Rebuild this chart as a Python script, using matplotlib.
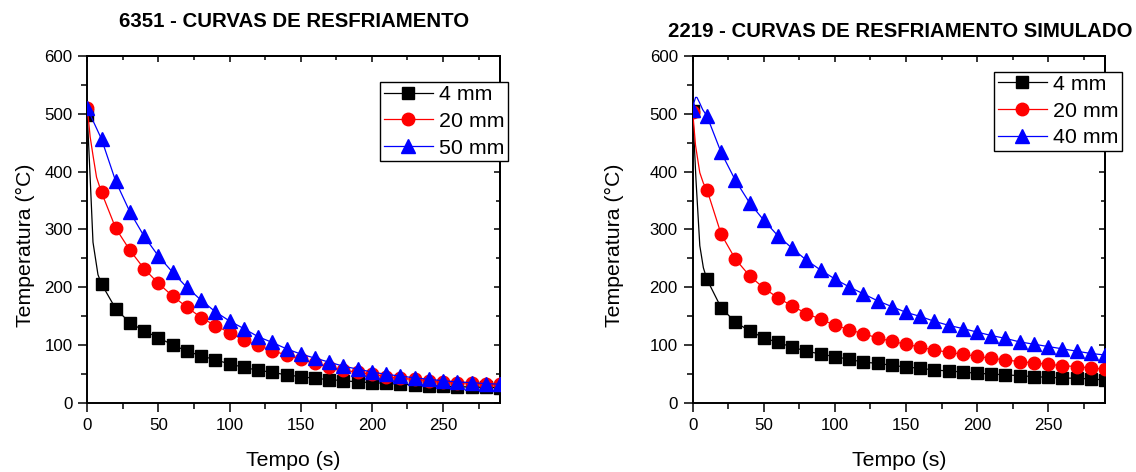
import matplotlib
matplotlib.use("Agg")
import matplotlib.pyplot as plt
from matplotlib.ticker import MultipleLocator
from matplotlib.lines import Line2D

plt.rcParams['font.family'] = ['Liberation Sans', 'DejaVu Sans']

# ---------------- data ----------------
time_s = list(range(0, 300, 10))

# 6351 - measured
a6351_4mm = [497, 206, 163, 139, 125, 113, 101, 90, 82, 75, 68, 62, 57, 53.5, 49, 46,
             43, 41, 39, 37, 35.7, 34.5, 33, 31.6, 30.5, 29.3, 28.8, 28, 27.6, 27]
a6351_20mm = [510, 364, 302, 264, 232, 207, 185, 166, 148, 134, 122, 109, 100, 91, 83, 76,
              69, 63, 57.5, 53.5, 50, 46, 43, 41.4, 39, 37.4, 35.7, 34.5, 33.4, 32.8]
a6351_50mm = [509, 456, 383, 330, 288, 254, 226, 200, 178, 158, 142, 129, 115, 105, 94, 85,
              78, 71, 64, 59, 54, 50, 47, 44, 41.4, 39, 36.8, 35.7, 34, 33]

# 2219 - simulated
a2219_4mm = [505, 214, 165, 140, 125, 113, 105, 97, 90, 85, 80.5, 76, 71, 69, 65.6, 62.7,
             60.4, 57.5, 55.8, 54, 51.8, 50.6, 49, 47.8, 46, 44.9, 43.7, 43.2, 42, 40.3]
a2219_20mm = [503, 369, 292, 249, 220, 199, 182, 168, 155, 145, 135, 127, 120, 113, 107, 102,
              97, 92, 88, 84.6, 81, 77.7, 74.8, 72, 69.6, 67.3, 65, 63.3, 61, 58.7]
a2219_40mm = [506, 496, 433, 385, 346, 316, 289, 267.5, 247, 230, 214.6, 201, 189, 177, 167, 157,
              150, 141.5, 134.6, 129, 123, 117, 112, 106, 102, 98, 94, 90, 86, 83.4]

l6351_4mm_t, l6351_4mm_v = [2, 4, 7.5], [390, 278, 222]
l6351_20mm_t, l6351_20mm_v = [2, 4, 6.5], [460, 428, 390]
l2219_4mm_t, l2219_4mm_v = [2.3, 5, 7.5], [386, 272, 234]
l2219_20mm_t, l2219_20mm_v = [2, 5, 7.5], [445, 398, 380]
l2219_40mm_t, l2219_40mm_v = [1, 2, 3, 5, 7], [520, 528, 528, 518, 507]

labels_left = ['4 mm', '20 mm', '50 mm']
labels_right = ['4 mm', '20 mm', '40 mm']
title_left = '6351 - CURVAS DE RESFRIAMENTO'
title_right = '2219 - CURVAS DE RESFRIAMENTO SIMULADO'

colors = ['#000000', '#FF0000', '#0000FF']
markers = ['s', 'o', '^']
msizes = [8.5, 9, 10]


def merged(t, v, et, ev):
    pairs = sorted(zip(list(t) + list(et), list(v) + list(ev)))
    return [p[0] for p in pairs], [p[1] for p in pairs]


W, H = 1136, 472
fig = plt.figure(figsize=(W / 100, H / 100), dpi=100)
ax1 = fig.add_axes([87.3 / W, 68.7 / H, 412.7 / W, 347.6 / H])
ax2 = fig.add_axes([692.7 / W, 68.7 / H, 412.3 / W, 347.6 / H])


def draw(ax, series, extras, labels, legend_anchor, ylabel_x):
    handles = []
    for i, (vals, (et, ev)) in enumerate(zip(series, extras)):
        lt, lv = merged(time_s, vals, et, ev)
        ax.plot(lt, lv, color=colors[i], lw=0.9, zorder=2 + 2 * i)
        ax.plot(time_s, vals, ls='none', marker=markers[i], ms=msizes[i],
                color=colors[i], mec=colors[i], zorder=3 + 2 * i)
        handles.append(Line2D([], [], color=colors[i], lw=0.9, marker=markers[i],
                              ms=msizes[i], mec=colors[i]))
    ax.set_xlim(0, 290)
    ax.set_ylim(0, 600)
    ax.xaxis.set_major_locator(MultipleLocator(50))
    ax.xaxis.set_minor_locator(MultipleLocator(25))
    ax.yaxis.set_major_locator(MultipleLocator(100))
    ax.yaxis.set_minor_locator(MultipleLocator(50))
    ax.tick_params(which='both', direction='out', width=1.1, labelsize=12.2,
                   top=False, right=False)
    ax.tick_params(which='major', length=6.5, pad=4.2)
    ax.tick_params(which='minor', length=4)
    for s in ax.spines.values():
        s.set_linewidth(1.4)
    # mirrored inward ticks on top and right
    sx = ax.secondary_xaxis('top')
    sx.xaxis.set_major_locator(MultipleLocator(50))
    sx.xaxis.set_minor_locator(MultipleLocator(25))
    sx.tick_params(which='both', direction='in', width=1.1, labeltop=False)
    sx.tick_params(which='major', length=4.5)
    sx.tick_params(which='minor', length=3)
    sy = ax.secondary_yaxis('right')
    sy.yaxis.set_major_locator(MultipleLocator(100))
    sy.yaxis.set_minor_locator(MultipleLocator(50))
    sy.tick_params(which='both', direction='in', width=1.1, labelright=False)
    sy.tick_params(which='major', length=4.5)
    sy.tick_params(which='minor', length=3)
    sx.spines['top'].set_linewidth(1.4)
    sy.spines['right'].set_linewidth(1.4)

    ax.set_xlabel('Tempo (s)', fontsize=15.3, labelpad=12.5)
    ax.set_ylabel('Temperatura (°C)', fontsize=15.3)
    ax.yaxis.set_label_coords(ylabel_x, 0.455)

    leg = ax.legend(handles, labels, loc='upper right',
                    bbox_to_anchor=legend_anchor, bbox_transform=fig.transFigure,
                    fontsize=15.4, frameon=True, fancybox=False, framealpha=1,
                    edgecolor='black', borderaxespad=0, borderpad=0.15,
                    labelspacing=0.36, handlelength=2.3, handletextpad=0.3,
                    numpoints=1)
    leg.get_frame().set_linewidth(1.0)
    leg.set_zorder(20)


draw(ax1, [a6351_4mm, a6351_20mm, a6351_50mm],
     [(l6351_4mm_t, l6351_4mm_v), (l6351_20mm_t, l6351_20mm_v), ([], [])],
     labels_left, (508 / W, 1 - 82 / H), (35 - 87.3) / 412.7)
draw(ax2, [a2219_4mm, a2219_20mm, a2219_40mm],
     [(l2219_4mm_t, l2219_4mm_v), (l2219_20mm_t, l2219_20mm_v), (l2219_40mm_t, l2219_40mm_v)],
     labels_right, (1122 / W, 1 - 71.7 / H), (624 - 692.7) / 412.3)

fig.text(294 / W, 1 - 26.7 / H, title_left, ha='center', va='baseline',
         fontsize=14.7, fontweight='bold')
fig.text(900 / W, 1 - 36.7 / H, title_right, ha='center', va='baseline',
         fontsize=14.7, fontweight='bold')

fig.savefig('out.png', dpi=100)
